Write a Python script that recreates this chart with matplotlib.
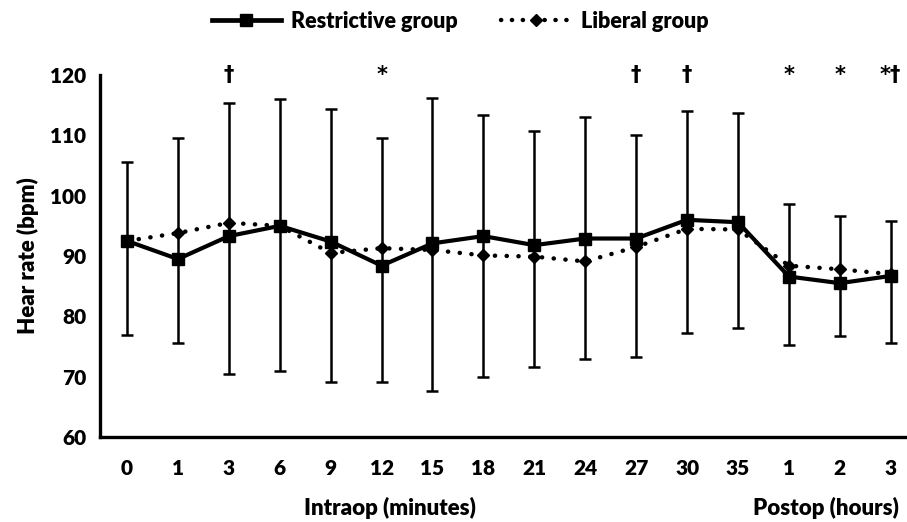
import matplotlib
matplotlib.use("Agg")
import matplotlib.pyplot as plt
from matplotlib.lines import Line2D

plt.rcParams['font.family'] = ['Lato', 'DejaVu Sans']
W = 'heavy'

tick_labels = ["0", "1", "3", "6", "9", "12", "15", "18", "21", "24", "27", "30", "35", "1", "2", "3"]
restrictive = [92.5, 89.5, 93.3, 95.0, 92.4, 88.4, 92.1, 93.3, 91.8, 92.9, 92.9, 96.0, 95.6, 86.6, 85.5, 86.7]
liberal = [92.5, 93.8, 95.5, 95.0, 90.5, 91.3, 91.0, 90.1, 89.9, 89.1, 91.5, 94.5, 94.4, 88.4, 87.8, 87.0]
err_top = [105.6, 109.6, 115.4, 116.0, 114.4, 109.5, 116.2, 113.4, 110.8, 113.0, 110.0, 114.0, 113.7, 98.6, 96.6, 95.8]
err_bottom = [76.9, 75.6, 70.4, 71.0, 69.2, 69.1, 67.6, 69.9, 71.6, 73.0, 73.2, 77.3, 78.1, 75.2, 76.7, 75.6]
annotations = {2: "\u2020", 5: "*", 10: "\u2020", 11: "\u2020", 13: "*", 14: "*", 15: "*\u2020"}

x = list(range(len(tick_labels)))

fig = plt.figure(figsize=(9.07, 5.22), dpi=100)
ax = fig.add_axes([0.1103, 0.1628, 0.8897, 0.6935])

ax.errorbar(x, restrictive,
            yerr=[[r - b for r, b in zip(restrictive, err_bottom)],
                  [t - r for r, t in zip(restrictive, err_top)]],
            fmt='none', ecolor='black', elinewidth=1.8, capsize=4.5, capthick=1.8, zorder=2)

ax.plot(x, liberal, linestyle=(0, (0.05, 2.6)), dash_capstyle='round', color='black',
        linewidth=3.2, marker='D', markersize=6.5, zorder=3)
ax.plot(x, restrictive, linestyle='-', color='black', linewidth=3.0,
        marker='s', markersize=9, zorder=4)

for i, s in annotations.items():
    ax.text(i, 120, s, ha='center', va='center', fontsize=15, fontweight='bold',
            family=['DejaVu Sans'], clip_on=False)

ax.set_xlim(-0.53, 15.32)
ax.set_ylim(60, 120)
ax.set_yticks(range(60, 121, 10))
ax.set_xticks(x)
ax.set_xticklabels(tick_labels)
ax.tick_params(axis='both', length=0, labelsize=15)
ax.tick_params(axis='y', pad=10)
ax.tick_params(axis='x', pad=16)
for lab in ax.get_xticklabels() + ax.get_yticklabels():
    lab.set_fontweight(W)

for sp in ['top', 'right']:
    ax.spines[sp].set_visible(False)
for sp in ['left', 'bottom']:
    ax.spines[sp].set_linewidth(2.4)

ax.set_ylabel("Hear rate (bpm)", fontsize=16, fontweight=W, labelpad=8)

fig.text(390 / 907, 1 - 508 / 522, "Intraop (minutes)", ha='center', va='center', fontsize=16, fontweight=W)
fig.text(826 / 907, 1 - 508 / 522, "Postop (hours)", ha='center', va='center', fontsize=16, fontweight=W)

handles = [
    Line2D([0], [0], color='black', linewidth=3.4, marker='s', markersize=9),
    Line2D([0], [0], color='black', linewidth=3.2, linestyle=(0, (0.05, 2.4)), dash_capstyle='round',
           marker='D', markersize=6.5),
]
fig.legend(handles, ["Restrictive group", "Liberal group"], loc='center', bbox_to_anchor=(460 / 907, 1 - 21 / 522),
           ncol=2, frameon=False, handlelength=3.2, columnspacing=2.0, handletextpad=0.5,
           prop={'weight': W, 'size': 15.5})

fig.savefig("out.png", dpi=100)
